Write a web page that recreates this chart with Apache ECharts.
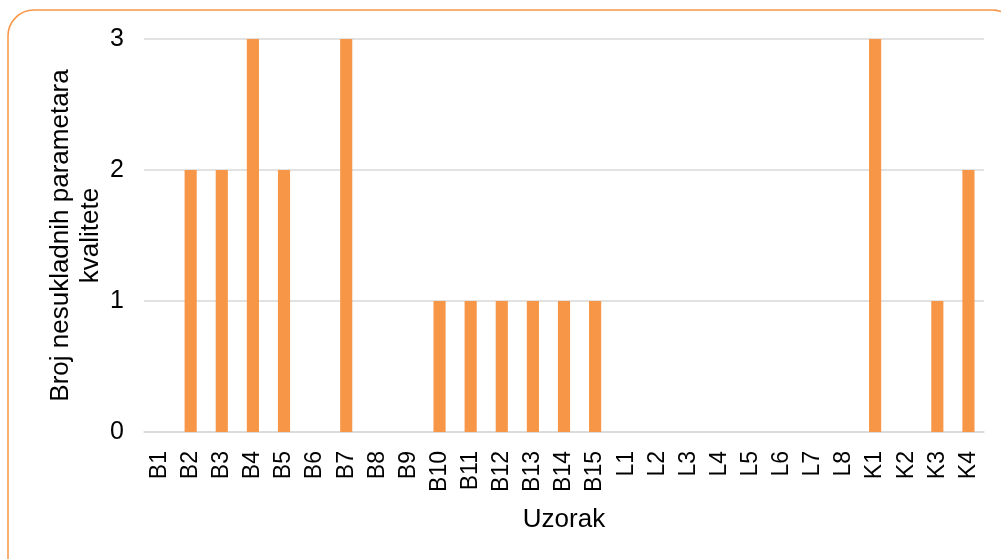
<!DOCTYPE html>
<html>
<head>
<meta charset="utf-8">
<script src="https://cdn.jsdelivr.net/npm/echarts@6/dist/echarts.min.js"></script>
<style>
  html, body { margin: 0; padding: 0; background: #fff; }
  #chart { width: 1001px; height: 559px; }
</style>
</head>
<body>
<div id="chart"></div>
<script>
// uzorci
var categories = ['B1', 'B2', 'B3', 'B4', 'B5', 'B6', 'B7', 'B8', 'B9', 'B10', 'B11', 'B12', 'B13', 'B14', 'B15',
  'L1', 'L2', 'L3', 'L4', 'L5', 'L6', 'L7', 'L8', 'K1', 'K2', 'K3', 'K4']
// broj nesukladnih parametara
var values = [0, 2, 2, 3, 2, 0, 3, 0, 0, 1, 1, 1, 1, 1, 1,
  0, 0, 0, 0, 0, 0, 0, 0, 3, 0, 1, 2]

var font = 'Liberation Sans, Arial, sans-serif'
var chart = echarts.init(document.getElementById('chart'))
chart.setOption({
  animation: false,
  textStyle: { fontFamily: font },
  graphic: [{
    type: 'rect',
    shape: { x: 8, y: 10, width: 1010, height: 575, r: 26 },
    style: { fill: 'none', stroke: '#F79646', lineWidth: 1.5 }
  }],
  grid: { left: 144, right: 17, top: 39, bottom: 127 },
  xAxis: {
    type: 'category',
    data: categories,
    name: 'Uzorak',
    nameLocation: 'middle',
    nameGap: 75,
    nameTextStyle: { fontSize: 26, color: '#000', fontFamily: font },
    axisLine: { lineStyle: { color: '#D9D9D9', width: 1.5 } },
    axisTick: { show: false },
    axisLabel: { rotate: 90, interval: 0, fontSize: 23, color: '#000', margin: 19, fontFamily: font }
  },
  yAxis: {
    type: 'value',
    min: 0,
    max: 3,
    interval: 1,
    name: 'Broj nesukladnih parametara\nkvalitete',
    nameLocation: 'middle',
    nameGap: 68,
    nameMoveOverlap: false,
    nameTextStyle: { fontSize: 26, color: '#000', lineHeight: 30, align: 'center', verticalAlign: 'middle', fontFamily: font },
    axisLine: { show: false },
    axisTick: { show: false },
    axisLabel: { fontSize: 25, color: '#000', margin: 20, fontFamily: font },
    splitLine: { lineStyle: { color: '#D9D9D9', width: 1.5 } }
  },
  series: [{
    type: 'bar',
    data: values,
    barWidth: '39%',
    itemStyle: { color: '#F79646' }
  }]
})
</script>
</body>
</html>
